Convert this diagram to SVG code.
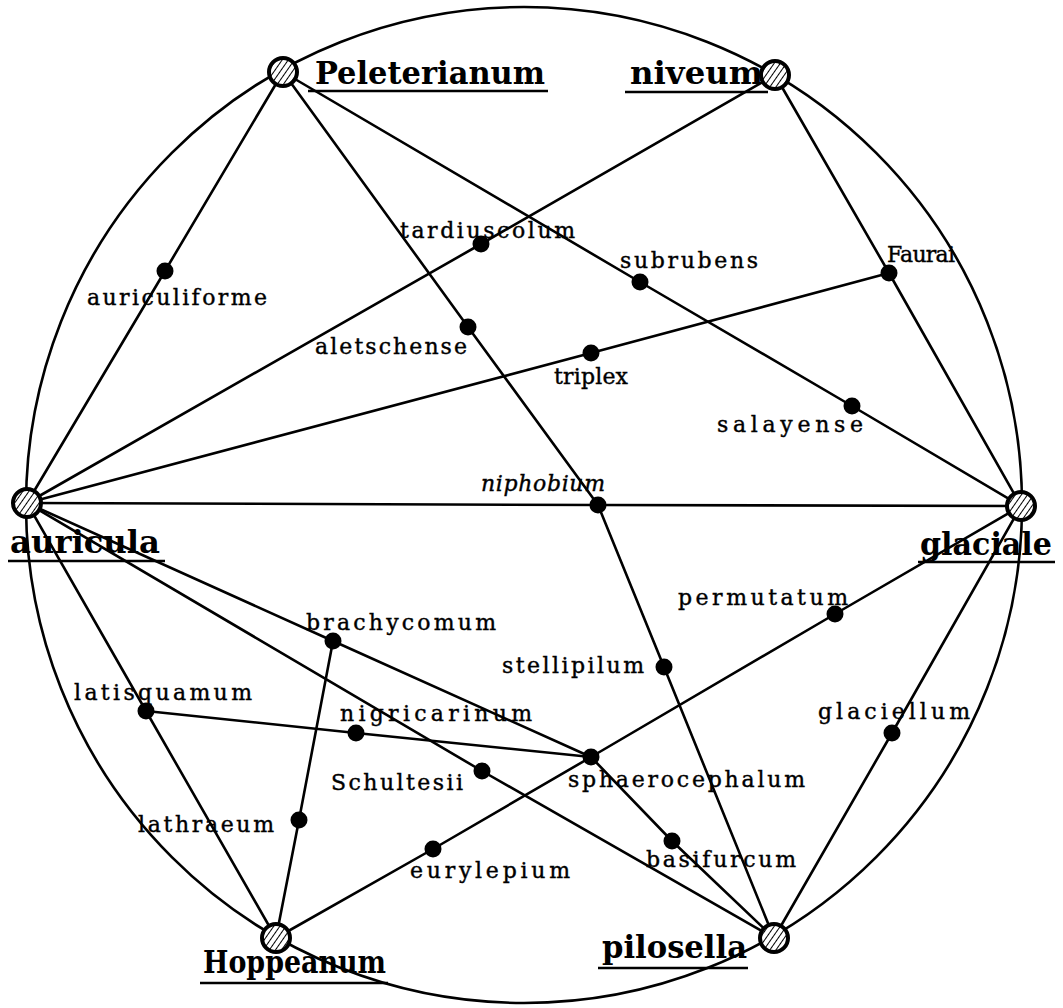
<svg xmlns="http://www.w3.org/2000/svg" width="1063" height="1008" viewBox="0 0 1063 1008">
<defs>
<pattern id="hatch" patternUnits="userSpaceOnUse" width="5" height="5" patternTransform="rotate(35)">
<rect width="5" height="5" fill="#fff"/>
<line x1="0" y1="0" x2="0" y2="5" stroke="#000" stroke-width="2"/>
</pattern>
<style>
.ln{fill:none;stroke:#000;stroke-width:2.6;stroke-linejoin:round;stroke-linecap:round}
.big{fill:url(#hatch);stroke:#000;stroke-width:4}
.dot{fill:#000}
.lbl{font-family:"DejaVu Serif","Liberation Serif",serif;font-size:22px;fill:#000;stroke:#000;stroke-width:0.4}
.main{font-family:"DejaVu Serif","Liberation Serif",serif;font-size:31px;font-weight:bold;fill:#000}
.ul{stroke:#000;stroke-width:2.5}
</style>
</defs>
<rect width="1063" height="1008" fill="#fff"/>
<g id="connectors">
<circle class="ln" cx="524" cy="505" r="498"/>
<polyline class="ln" points="283,72 165,271 27,503"/>
<polyline class="ln" points="775,75 481,244 27,503"/>
<polyline class="ln" points="283,72 640,282 852,406 1021,506"/>
<polyline class="ln" points="775,75 889,273 1021,506"/>
<polyline class="ln" points="27,503 591,353 889,273"/>
<polyline class="ln" points="283,72 468,327 598,505 664,667 774,938"/>
<polyline class="ln" points="27,503 598,505 1021,506"/>
<polyline class="ln" points="1021,506 835,614 591,757 433,849 276,938"/>
<polyline class="ln" points="1021,506 892,733 774,938"/>
<polyline class="ln" points="27,503 333,641 591,757 672,841 774,938"/>
<polyline class="ln" points="27,503 482,771 774,938"/>
<polyline class="ln" points="27,503 146,711 276,938"/>
<polyline class="ln" points="146,711 356,733 591,757"/>
<polyline class="ln" points="276,938 299,820 333,641"/>
</g>
<g id="Peleterianum"><circle class="big" cx="283" cy="72" r="14"/><text class="main" x="315" y="84" textLength="230" lengthAdjust="spacingAndGlyphs">Peleterianum</text><line class="ul" x1="308" y1="91" x2="548" y2="91"/></g>
<g id="niveum"><circle class="big" cx="775" cy="75" r="14"/><text class="main" x="630" y="84" textLength="133" lengthAdjust="spacingAndGlyphs">niveum</text><line class="ul" x1="625" y1="92" x2="768" y2="92"/></g>
<g id="auricula"><circle class="big" cx="27" cy="503" r="14"/><text class="main" x="10" y="553" textLength="150" lengthAdjust="spacingAndGlyphs">auricula</text><line class="ul" x1="8" y1="561" x2="165" y2="561"/></g>
<g id="glaciale"><circle class="big" cx="1021" cy="506" r="14"/><text class="main" x="920" y="555" textLength="132" lengthAdjust="spacingAndGlyphs">glaciale</text><line class="ul" x1="918" y1="562" x2="1055" y2="562"/></g>
<g id="Hoppeanum"><circle class="big" cx="276" cy="938" r="14"/><text class="main" x="203" y="973" textLength="183" lengthAdjust="spacingAndGlyphs">Hoppeanum</text><line class="ul" x1="200" y1="983" x2="388" y2="983"/></g>
<g id="pilosella"><circle class="big" cx="774" cy="938" r="14"/><text class="main" x="602" y="958" textLength="145" lengthAdjust="spacingAndGlyphs">pilosella</text><line class="ul" x1="598" y1="968" x2="748" y2="968"/></g>
<g id="auriculiforme"><circle class="dot" cx="165" cy="271" r="8.5"/><text class="lbl" x="87" y="305" textLength="180" lengthAdjust="spacing">auriculiforme</text></g>
<g id="tardiuscolum"><circle class="dot" cx="481" cy="244" r="8.5"/><text class="lbl" x="400" y="238" textLength="175" lengthAdjust="spacing">tardiuscolum</text></g>
<g id="subrubens"><circle class="dot" cx="640" cy="282" r="8.5"/><text class="lbl" x="620" y="268" textLength="138" lengthAdjust="spacing">subrubens</text></g>
<g id="Faurai"><circle class="dot" cx="889" cy="273" r="8.5"/><text class="lbl" x="887" y="262" textLength="68" lengthAdjust="spacing">Faurai</text></g>
<g id="aletschense"><circle class="dot" cx="468" cy="327" r="8.5"/><text class="lbl" x="315" y="354" textLength="152" lengthAdjust="spacing">aletschense</text></g>
<g id="triplex"><circle class="dot" cx="591" cy="353" r="8.5"/><text class="lbl" x="554" y="384" textLength="74" lengthAdjust="spacing">triplex</text></g>
<g id="salayense"><circle class="dot" cx="852" cy="406" r="8.5"/><text class="lbl" x="717" y="432" textLength="146" lengthAdjust="spacing">salayense</text></g>
<g id="niphobium"><circle class="dot" cx="598" cy="505" r="8.5"/><text class="lbl" x="481" y="491" textLength="124" lengthAdjust="spacing" font-style="italic">niphobium</text></g>
<g id="permutatum"><circle class="dot" cx="835" cy="614" r="8.5"/><text class="lbl" x="678" y="605" textLength="170" lengthAdjust="spacing">permutatum</text></g>
<g id="brachycomum"><circle class="dot" cx="333" cy="641" r="8.5"/><text class="lbl" x="306" y="630" textLength="190" lengthAdjust="spacing">brachycomum</text></g>
<g id="stellipilum"><circle class="dot" cx="664" cy="667" r="8.5"/><text class="lbl" x="502" y="673" textLength="142" lengthAdjust="spacing">stellipilum</text></g>
<g id="latisquamum"><circle class="dot" cx="146" cy="711" r="8.5"/><text class="lbl" x="74" y="700" textLength="178" lengthAdjust="spacing">latisquamum</text></g>
<g id="nigricarinum"><circle class="dot" cx="356" cy="733" r="8.5"/><text class="lbl" x="340" y="721" textLength="192" lengthAdjust="spacing">nigricarinum</text></g>
<g id="glaciellum"><circle class="dot" cx="892" cy="733" r="8.5"/><text class="lbl" x="818" y="719" textLength="152" lengthAdjust="spacing">glaciellum</text></g>
<g id="sphaerocephalum"><circle class="dot" cx="591" cy="757" r="8.5"/><text class="lbl" x="568" y="787" textLength="237" lengthAdjust="spacing">sphaerocephalum</text></g>
<g id="Schultesii"><circle class="dot" cx="482" cy="771" r="8.5"/><text class="lbl" x="331" y="790" textLength="132" lengthAdjust="spacing">Schultesii</text></g>
<g id="lathraeum"><circle class="dot" cx="299" cy="820" r="8.5"/><text class="lbl" x="138" y="832" textLength="136" lengthAdjust="spacing">lathraeum</text></g>
<g id="basifurcum"><circle class="dot" cx="672" cy="841" r="8.5"/><text class="lbl" x="646" y="867" textLength="150" lengthAdjust="spacing">basifurcum</text></g>
<g id="eurylepium"><circle class="dot" cx="433" cy="849" r="8.5"/><text class="lbl" x="410" y="878" textLength="160" lengthAdjust="spacing">eurylepium</text></g>
</svg>
